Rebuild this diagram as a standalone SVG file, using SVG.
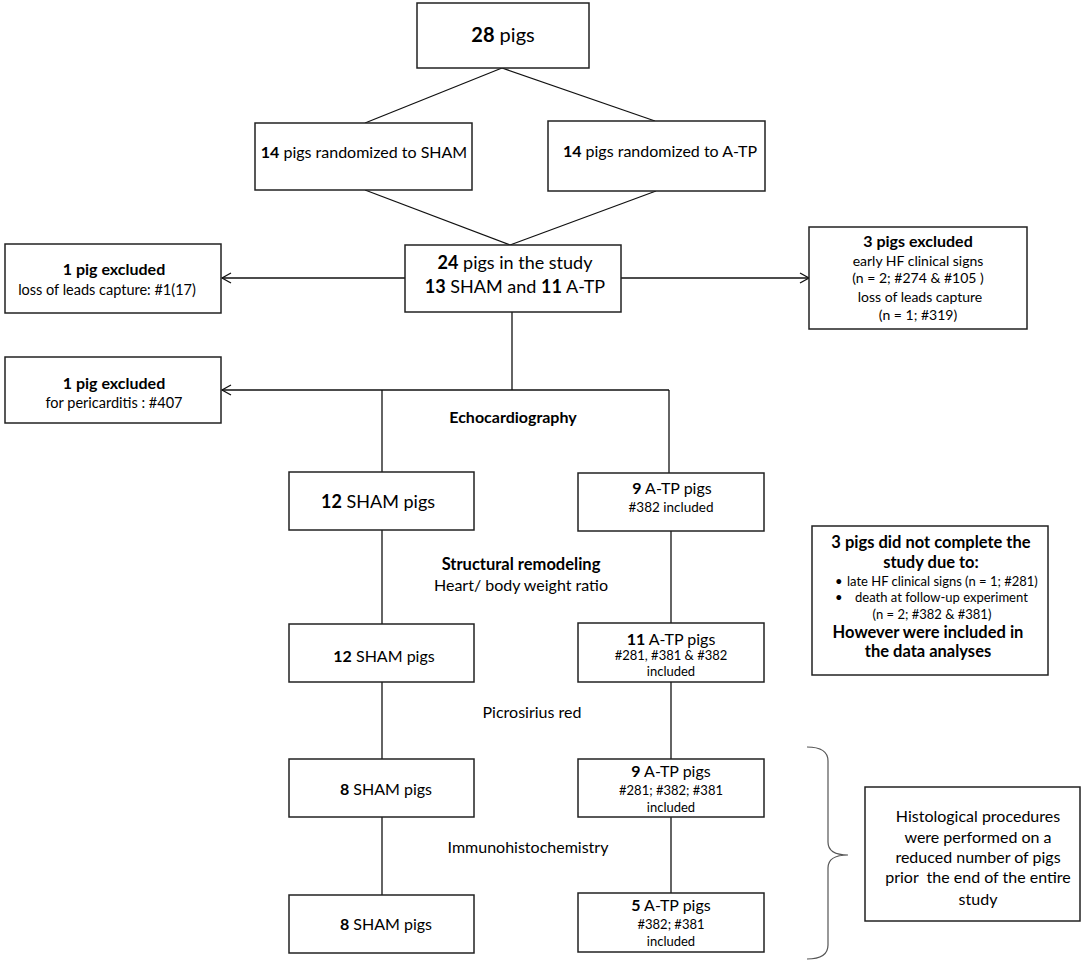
<svg xmlns="http://www.w3.org/2000/svg" width="1084" height="964" viewBox="0 0 1084 964">
<style>
.box{fill:#fff;stroke:#222;stroke-width:1.5}
.ln{fill:none;stroke:#111;stroke-width:1.3}
text{font-family:Lato,"Liberation Sans",sans-serif;fill:#000;text-anchor:middle}
.b{font-weight:bold}
text.s{text-anchor:start}
</style>
<defs>
<marker id="ah" markerWidth="12" markerHeight="12" refX="10" refY="6" orient="auto" markerUnits="userSpaceOnUse">
<path d="M1,1 L10,6 L1,11" fill="none" stroke="#111" stroke-width="1.3"/>
</marker>
</defs>
<g id="connectors">
<line class="ln" x1="502" y1="68" x2="365" y2="123"/>
<line class="ln" x1="502" y1="68" x2="655" y2="121"/>
<line class="ln" x1="365" y1="190" x2="510" y2="245"/>
<line class="ln" x1="656" y1="191" x2="510" y2="245"/>
<line class="ln" x1="405" y1="278" x2="222" y2="278" marker-end="url(#ah)"/>
<line class="ln" x1="621" y1="278" x2="809" y2="278" marker-end="url(#ah)"/>
<line class="ln" x1="512" y1="312" x2="512" y2="390"/>
<line class="ln" x1="669" y1="390" x2="222" y2="390" marker-end="url(#ah)"/>
<line class="ln" x1="382" y1="390" x2="382" y2="472"/>
<line class="ln" x1="669" y1="390" x2="669" y2="473"/>
<line class="ln" x1="382" y1="530" x2="382" y2="624"/>
<line class="ln" x1="671" y1="531" x2="671" y2="623"/>
<line class="ln" x1="382" y1="682" x2="382" y2="759"/>
<line class="ln" x1="671" y1="682" x2="671" y2="759"/>
<line class="ln" x1="382" y1="817" x2="382" y2="895"/>
<line class="ln" x1="671" y1="817" x2="671" y2="893"/>
<path d="M807,747 Q828,747 828,761 L828,842 Q828,855 848,855 Q828,855 828,868 L828,945 Q828,959 807,959" fill="none" stroke="#555" stroke-width="1.2"/>
</g>
<g id="n28">
<rect class="box" x="417" y="3" width="172" height="65"/>
<text x="503" y="42" font-size="20"><tspan class="b">28</tspan> pigs</text>
</g>
<g id="sham14">
<rect class="box" x="255" y="123" width="217" height="67"/>
<text x="364" y="158" font-size="16"><tspan class="b">14</tspan> pigs randomized to SHAM</text>
</g>
<g id="atp14">
<rect class="box" x="548" y="121" width="217" height="70"/>
<text x="660" y="157" font-size="16"><tspan class="b">14</tspan> pigs randomized to A-TP</text>
</g>
<g id="study24">
<rect class="box" x="405" y="245" width="216" height="67"/>
<text x="515" y="269" font-size="18"><tspan class="b">24</tspan> pigs in the study</text>
<text x="515" y="293" font-size="18"><tspan class="b">13</tspan> SHAM and <tspan class="b">11</tspan> A-TP</text>
</g>
<g id="excl1">
<rect class="box" x="5" y="244" width="216" height="69"/>
<text x="114" y="275" font-size="16" class="b">1 pig excluded</text>
<text x="107" y="295" font-size="14.5">loss of leads capture: #1(17)</text>
</g>
<g id="excl3">
<rect class="box" x="809" y="227" width="218" height="102"/>
<text x="918" y="247" font-size="16" class="b">3 pigs excluded</text>
<text x="918" y="266" font-size="14">early HF clinical signs</text>
<text x="918" y="283" font-size="14">(n = 2; #274 &amp; #105 )</text>
<text x="920" y="302" font-size="14">loss of leads capture</text>
<text x="918" y="320" font-size="14">(n = 1; #319)</text>
</g>
<g id="excl407">
<rect class="box" x="5" y="357" width="216" height="66"/>
<text x="114" y="389" font-size="16" class="b">1 pig excluded</text>
<text x="114" y="408" font-size="14.5">for pericarditis : #407</text>
</g>
<g id="labels">
<text x="513" y="423" font-size="16" class="b">Echocardiography</text>
<text x="521" y="570" font-size="16.5" class="b">Structural remodeling</text>
<text x="521" y="591" font-size="16">Heart/ body weight ratio</text>
<text x="532" y="718" font-size="16">Picrosirius red</text>
<text x="528" y="853" font-size="16">Immunohistochemistry</text>
</g>
<g id="sham12a">
<rect class="box" x="289" y="472" width="185" height="58"/>
<text x="378" y="508" font-size="18"><tspan class="b">12</tspan> SHAM pigs</text>
</g>
<g id="atp9a">
<rect class="box" x="578" y="473" width="186" height="58"/>
<text x="672" y="494" font-size="16"><tspan class="b">9</tspan> A-TP pigs</text>
<text x="671" y="512" font-size="13.5">#382 included</text>
</g>
<g id="sham12b">
<rect class="box" x="289" y="624" width="185" height="58"/>
<text x="384" y="662" font-size="16"><tspan class="b">12</tspan> SHAM pigs</text>
</g>
<g id="atp11">
<rect class="box" x="578" y="623" width="186" height="59"/>
<text x="671" y="645" font-size="16"><tspan class="b">11</tspan> A-TP pigs</text>
<text x="671" y="660" font-size="13">#281, #381 &amp; #382</text>
<text x="671" y="676" font-size="13">included</text>
</g>
<g id="sham8a">
<rect class="box" x="289" y="759" width="185" height="58"/>
<text x="386" y="795" font-size="16"><tspan class="b">8</tspan> SHAM pigs</text>
</g>
<g id="atp9b">
<rect class="box" x="578" y="759" width="186" height="58"/>
<text x="671" y="777" font-size="16"><tspan class="b">9</tspan> A-TP pigs</text>
<text x="671" y="795" font-size="13">#281; #382; #381</text>
<text x="671" y="812" font-size="13">included</text>
</g>
<g id="sham8b">
<rect class="box" x="289" y="895" width="185" height="58"/>
<text x="386" y="930" font-size="16"><tspan class="b">8</tspan> SHAM pigs</text>
</g>
<g id="atp5">
<rect class="box" x="578" y="893" width="186" height="59"/>
<text x="671" y="911" font-size="16"><tspan class="b">5</tspan> A-TP pigs</text>
<text x="671" y="929" font-size="13">#382; #381</text>
<text x="671" y="946" font-size="13">included</text>
</g>
<g id="notcomplete">
<rect class="box" x="812" y="526" width="236" height="149"/>
<text x="931" y="548" font-size="16.5" class="b">3 pigs did not complete the</text>
<text x="931" y="568" font-size="16.5" class="b">study due to:</text>
<text class="s" x="835" y="586" font-size="13">•</text>
<text class="s" x="847" y="586" font-size="13">late HF clinical signs (n = 1; #281)</text>
<text class="s" x="835" y="602" font-size="13">•</text>
<text class="s" x="855" y="602" font-size="13">death at follow-up experiment</text>
<text x="932" y="619" font-size="13">(n = 2; #382 &amp; #381)</text>
<text x="928" y="638" font-size="16.5" class="b">However were included in</text>
<text x="928" y="657" font-size="16.5" class="b">the data analyses</text>
</g>
<g id="histo">
<rect class="box" x="865" y="787" width="215" height="134"/>
<text x="978" y="822" font-size="16">Histological procedures</text>
<text x="978" y="843" font-size="16">were performed on a</text>
<text x="978" y="863" font-size="16">reduced number of pigs</text>
<text x="978" y="883" font-size="16" xml:space="preserve">prior  the end of the entire</text>
<text x="978" y="905" font-size="16">study</text>
</g>
</svg>
